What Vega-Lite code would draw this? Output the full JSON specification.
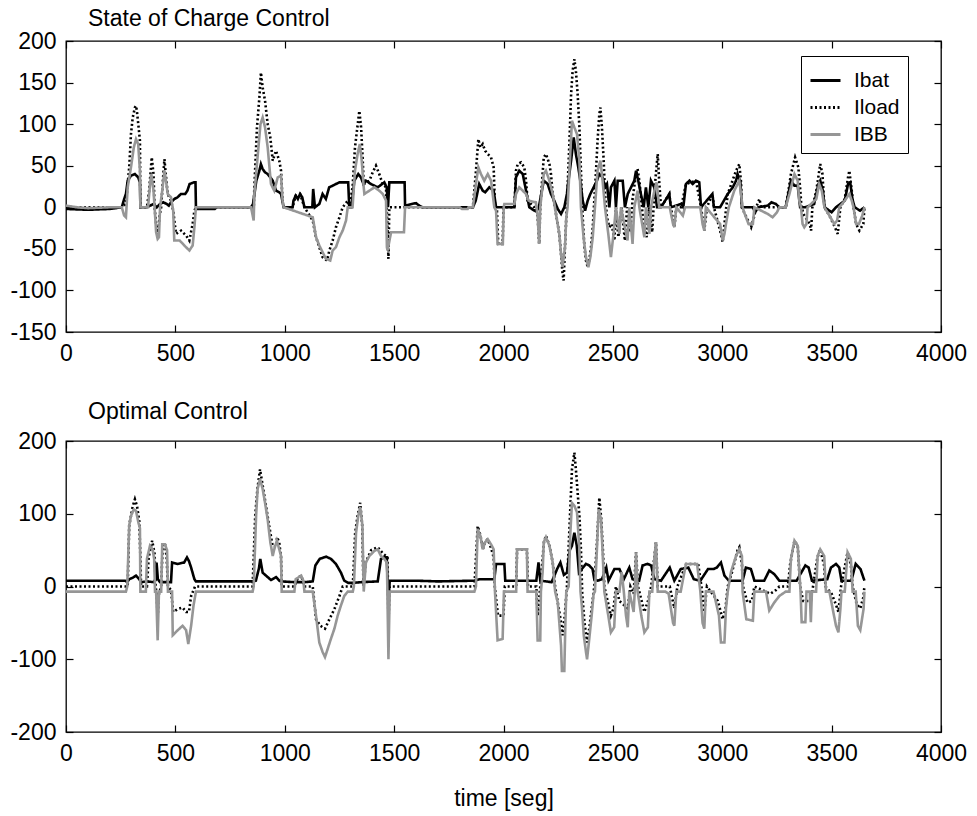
{
"$schema": "https://vega.github.io/schema/vega-lite/v6.json",
"padding": {"left": 9, "top": 7, "right": 5, "bottom": 5},
"config": {
 "font": "Liberation Sans",
 "view": {"stroke": "#000000", "strokeWidth": 1.3},
 "axis": {"labelFont": "Liberation Sans", "labelFontSize": 23, "labelColor": "#000000", "tickColor": "#000000", "tickSize": -7, "tickWidth": 1.2, "domain": false, "grid": false, "labelFlush": false, "labelPadding": 17, "labelExpr": "'' + datum.value", "titleFont": "Liberation Sans", "titleFontSize": 23, "titleFontWeight": "normal", "titleColor": "#000000"},
 "title": {"font": "Liberation Sans", "fontSize": 23, "fontWeight": "normal", "color": "#000000", "anchor": "start", "frame": "group", "dx": 22, "baseline": "alphabetic", "offset": -1}
},
"datasets": {
"soc": [
{"s":"Ibat","t":0,"v":-2},{"s":"Ibat","t":100,"v":-3},{"s":"Ibat","t":200,"v":-2},{"s":"Ibat","t":255,"v":0},{"s":"Ibat","t":266,"v":10},{"s":"Ibat","t":274,"v":16},{"s":"Ibat","t":282,"v":32},{"s":"Ibat","t":297,"v":38},{"s":"Ibat","t":315,"v":40},{"s":"Ibat","t":330,"v":36},{"s":"Ibat","t":338,"v":30},{"s":"Ibat","t":340,"v":0},{"s":"Ibat","t":370,"v":0},{"s":"Ibat","t":385,"v":2},{"s":"Ibat","t":400,"v":4},{"s":"Ibat","t":415,"v":0},{"s":"Ibat","t":430,"v":4},{"s":"Ibat","t":445,"v":6},{"s":"Ibat","t":460,"v":4},{"s":"Ibat","t":470,"v":2},{"s":"Ibat","t":480,"v":6},{"s":"Ibat","t":495,"v":10},{"s":"Ibat","t":510,"v":12},{"s":"Ibat","t":525,"v":16},{"s":"Ibat","t":545,"v":16},{"s":"Ibat","t":555,"v":20},{"s":"Ibat","t":565,"v":28},{"s":"Ibat","t":585,"v":30},{"s":"Ibat","t":592,"v":30},{"s":"Ibat","t":594,"v":0},{"s":"Ibat","t":600,"v":-2},{"s":"Ibat","t":680,"v":-2},{"s":"Ibat","t":690,"v":0},{"s":"Ibat","t":846,"v":0},{"s":"Ibat","t":855,"v":4},{"s":"Ibat","t":870,"v":32},{"s":"Ibat","t":884,"v":44},{"s":"Ibat","t":891,"v":52},{"s":"Ibat","t":899,"v":46},{"s":"Ibat","t":910,"v":42},{"s":"Ibat","t":922,"v":40},{"s":"Ibat","t":934,"v":36},{"s":"Ibat","t":945,"v":32},{"s":"Ibat","t":960,"v":20},{"s":"Ibat","t":975,"v":18},{"s":"Ibat","t":983,"v":16},{"s":"Ibat","t":995,"v":0},{"s":"Ibat","t":1036,"v":0},{"s":"Ibat","t":1040,"v":8},{"s":"Ibat","t":1050,"v":14},{"s":"Ibat","t":1060,"v":10},{"s":"Ibat","t":1070,"v":16},{"s":"Ibat","t":1080,"v":12},{"s":"Ibat","t":1090,"v":0},{"s":"Ibat","t":1126,"v":0},{"s":"Ibat","t":1130,"v":22},{"s":"Ibat","t":1138,"v":0},{"s":"Ibat","t":1158,"v":4},{"s":"Ibat","t":1173,"v":16},{"s":"Ibat","t":1188,"v":10},{"s":"Ibat","t":1203,"v":24},{"s":"Ibat","t":1219,"v":26},{"s":"Ibat","t":1234,"v":28},{"s":"Ibat","t":1250,"v":30},{"s":"Ibat","t":1290,"v":30},{"s":"Ibat","t":1295,"v":0},{"s":"Ibat","t":1305,"v":0},{"s":"Ibat","t":1318,"v":32},{"s":"Ibat","t":1336,"v":40},{"s":"Ibat","t":1348,"v":36},{"s":"Ibat","t":1360,"v":28},{"s":"Ibat","t":1371,"v":32},{"s":"Ibat","t":1394,"v":28},{"s":"Ibat","t":1425,"v":24},{"s":"Ibat","t":1455,"v":30},{"s":"Ibat","t":1466,"v":24},{"s":"Ibat","t":1472,"v":0},{"s":"Ibat","t":1478,"v":30},{"s":"Ibat","t":1548,"v":30},{"s":"Ibat","t":1550,"v":2},{"s":"Ibat","t":1580,"v":4},{"s":"Ibat","t":1600,"v":5},{"s":"Ibat","t":1615,"v":2},{"s":"Ibat","t":1630,"v":0},{"s":"Ibat","t":1860,"v":0},{"s":"Ibat","t":1873,"v":8},{"s":"Ibat","t":1889,"v":28},{"s":"Ibat","t":1905,"v":20},{"s":"Ibat","t":1916,"v":18},{"s":"Ibat","t":1935,"v":24},{"s":"Ibat","t":1955,"v":20},{"s":"Ibat","t":1966,"v":0},{"s":"Ibat","t":2050,"v":0},{"s":"Ibat","t":2057,"v":36},{"s":"Ibat","t":2072,"v":44},{"s":"Ibat","t":2088,"v":40},{"s":"Ibat","t":2103,"v":20},{"s":"Ibat","t":2118,"v":0},{"s":"Ibat","t":2141,"v":-4},{"s":"Ibat","t":2160,"v":-2},{"s":"Ibat","t":2184,"v":32},{"s":"Ibat","t":2202,"v":28},{"s":"Ibat","t":2217,"v":16},{"s":"Ibat","t":2232,"v":8},{"s":"Ibat","t":2248,"v":-2},{"s":"Ibat","t":2263,"v":-8},{"s":"Ibat","t":2278,"v":0},{"s":"Ibat","t":2290,"v":16},{"s":"Ibat","t":2293,"v":24},{"s":"Ibat","t":2309,"v":56},{"s":"Ibat","t":2321,"v":84},{"s":"Ibat","t":2331,"v":64},{"s":"Ibat","t":2342,"v":48},{"s":"Ibat","t":2351,"v":32},{"s":"Ibat","t":2362,"v":8},{"s":"Ibat","t":2373,"v":-4},{"s":"Ibat","t":2385,"v":8},{"s":"Ibat","t":2397,"v":16},{"s":"Ibat","t":2412,"v":24},{"s":"Ibat","t":2427,"v":32},{"s":"Ibat","t":2438,"v":40},{"s":"Ibat","t":2453,"v":36},{"s":"Ibat","t":2464,"v":24},{"s":"Ibat","t":2473,"v":28},{"s":"Ibat","t":2484,"v":0},{"s":"Ibat","t":2491,"v":24},{"s":"Ibat","t":2507,"v":32},{"s":"Ibat","t":2514,"v":0},{"s":"Ibat","t":2522,"v":32},{"s":"Ibat","t":2545,"v":32},{"s":"Ibat","t":2555,"v":0},{"s":"Ibat","t":2568,"v":16},{"s":"Ibat","t":2583,"v":24},{"s":"Ibat","t":2598,"v":32},{"s":"Ibat","t":2606,"v":44},{"s":"Ibat","t":2616,"v":32},{"s":"Ibat","t":2628,"v":16},{"s":"Ibat","t":2641,"v":0},{"s":"Ibat","t":2651,"v":24},{"s":"Ibat","t":2662,"v":0},{"s":"Ibat","t":2674,"v":32},{"s":"Ibat","t":2689,"v":24},{"s":"Ibat","t":2702,"v":0},{"s":"Ibat","t":2720,"v":0},{"s":"Ibat","t":2758,"v":16},{"s":"Ibat","t":2765,"v":0},{"s":"Ibat","t":2812,"v":4},{"s":"Ibat","t":2822,"v":0},{"s":"Ibat","t":2834,"v":28},{"s":"Ibat","t":2850,"v":32},{"s":"Ibat","t":2865,"v":28},{"s":"Ibat","t":2880,"v":32},{"s":"Ibat","t":2895,"v":30},{"s":"Ibat","t":2903,"v":0},{"s":"Ibat","t":2955,"v":16},{"s":"Ibat","t":2962,"v":0},{"s":"Ibat","t":2990,"v":0},{"s":"Ibat","t":3025,"v":16},{"s":"Ibat","t":3048,"v":24},{"s":"Ibat","t":3063,"v":32},{"s":"Ibat","t":3070,"v":40},{"s":"Ibat","t":3083,"v":30},{"s":"Ibat","t":3090,"v":0},{"s":"Ibat","t":3140,"v":0},{"s":"Ibat","t":3150,"v":-6},{"s":"Ibat","t":3165,"v":0},{"s":"Ibat","t":3208,"v":2},{"s":"Ibat","t":3225,"v":6},{"s":"Ibat","t":3245,"v":4},{"s":"Ibat","t":3261,"v":0},{"s":"Ibat","t":3290,"v":0},{"s":"Ibat","t":3299,"v":12},{"s":"Ibat","t":3314,"v":32},{"s":"Ibat","t":3330,"v":26},{"s":"Ibat","t":3345,"v":26},{"s":"Ibat","t":3356,"v":0},{"s":"Ibat","t":3380,"v":0},{"s":"Ibat","t":3420,"v":4},{"s":"Ibat","t":3440,"v":28},{"s":"Ibat","t":3448,"v":32},{"s":"Ibat","t":3460,"v":20},{"s":"Ibat","t":3468,"v":0},{"s":"Ibat","t":3500,"v":-6},{"s":"Ibat","t":3520,"v":0},{"s":"Ibat","t":3560,"v":8},{"s":"Ibat","t":3575,"v":28},{"s":"Ibat","t":3585,"v":30},{"s":"Ibat","t":3595,"v":10},{"s":"Ibat","t":3605,"v":0},{"s":"Ibat","t":3630,"v":-4},{"s":"Ibat","t":3650,"v":0},
{"s":"Iload","t":0,"v":0},{"s":"Iload","t":255,"v":0},{"s":"Iload","t":274,"v":4},{"s":"Iload","t":282,"v":28},{"s":"Iload","t":289,"v":48},{"s":"Iload","t":297,"v":88},{"s":"Iload","t":305,"v":108},{"s":"Iload","t":315,"v":120},{"s":"Iload","t":320,"v":122},{"s":"Iload","t":324,"v":116},{"s":"Iload","t":332,"v":96},{"s":"Iload","t":338,"v":80},{"s":"Iload","t":340,"v":0},{"s":"Iload","t":370,"v":0},{"s":"Iload","t":380,"v":20},{"s":"Iload","t":392,"v":60},{"s":"Iload","t":400,"v":40},{"s":"Iload","t":405,"v":0},{"s":"Iload","t":412,"v":-20},{"s":"Iload","t":419,"v":-36},{"s":"Iload","t":428,"v":-10},{"s":"Iload","t":435,"v":0},{"s":"Iload","t":445,"v":40},{"s":"Iload","t":450,"v":58},{"s":"Iload","t":456,"v":40},{"s":"Iload","t":465,"v":16},{"s":"Iload","t":480,"v":8},{"s":"Iload","t":490,"v":-4},{"s":"Iload","t":503,"v":-32},{"s":"Iload","t":526,"v":-28},{"s":"Iload","t":549,"v":-34},{"s":"Iload","t":564,"v":-40},{"s":"Iload","t":579,"v":-20},{"s":"Iload","t":587,"v":-4},{"s":"Iload","t":594,"v":0},{"s":"Iload","t":846,"v":0},{"s":"Iload","t":858,"v":-4},{"s":"Iload","t":861,"v":24},{"s":"Iload","t":873,"v":96},{"s":"Iload","t":884,"v":132},{"s":"Iload","t":891,"v":162},{"s":"Iload","t":899,"v":144},{"s":"Iload","t":910,"v":128},{"s":"Iload","t":922,"v":100},{"s":"Iload","t":934,"v":84},{"s":"Iload","t":945,"v":56},{"s":"Iload","t":960,"v":68},{"s":"Iload","t":975,"v":56},{"s":"Iload","t":983,"v":44},{"s":"Iload","t":990,"v":8},{"s":"Iload","t":995,"v":0},{"s":"Iload","t":1036,"v":0},{"s":"Iload","t":1050,"v":14},{"s":"Iload","t":1070,"v":16},{"s":"Iload","t":1090,"v":0},{"s":"Iload","t":1128,"v":-16},{"s":"Iload","t":1143,"v":-36},{"s":"Iload","t":1158,"v":-48},{"s":"Iload","t":1173,"v":-60},{"s":"Iload","t":1193,"v":-64},{"s":"Iload","t":1204,"v":-52},{"s":"Iload","t":1219,"v":-40},{"s":"Iload","t":1234,"v":-24},{"s":"Iload","t":1250,"v":-12},{"s":"Iload","t":1265,"v":0},{"s":"Iload","t":1288,"v":8},{"s":"Iload","t":1295,"v":0},{"s":"Iload","t":1310,"v":24},{"s":"Iload","t":1321,"v":72},{"s":"Iload","t":1330,"v":92},{"s":"Iload","t":1341,"v":116},{"s":"Iload","t":1349,"v":96},{"s":"Iload","t":1356,"v":60},{"s":"Iload","t":1361,"v":28},{"s":"Iload","t":1387,"v":32},{"s":"Iload","t":1402,"v":42},{"s":"Iload","t":1417,"v":50},{"s":"Iload","t":1432,"v":40},{"s":"Iload","t":1448,"v":28},{"s":"Iload","t":1463,"v":24},{"s":"Iload","t":1470,"v":-30},{"s":"Iload","t":1474,"v":-62},{"s":"Iload","t":1478,"v":0},{"s":"Iload","t":1860,"v":0},{"s":"Iload","t":1873,"v":40},{"s":"Iload","t":1885,"v":82},{"s":"Iload","t":1894,"v":72},{"s":"Iload","t":1905,"v":76},{"s":"Iload","t":1916,"v":68},{"s":"Iload","t":1928,"v":64},{"s":"Iload","t":1943,"v":60},{"s":"Iload","t":1955,"v":48},{"s":"Iload","t":1961,"v":0},{"s":"Iload","t":1970,"v":-4},{"s":"Iload","t":1976,"v":-44},{"s":"Iload","t":1996,"v":-44},{"s":"Iload","t":2000,"v":0},{"s":"Iload","t":2050,"v":0},{"s":"Iload","t":2057,"v":44},{"s":"Iload","t":2065,"v":52},{"s":"Iload","t":2080,"v":54},{"s":"Iload","t":2095,"v":48},{"s":"Iload","t":2103,"v":32},{"s":"Iload","t":2110,"v":8},{"s":"Iload","t":2140,"v":0},{"s":"Iload","t":2156,"v":-10},{"s":"Iload","t":2163,"v":-44},{"s":"Iload","t":2168,"v":0},{"s":"Iload","t":2184,"v":60},{"s":"Iload","t":2194,"v":64},{"s":"Iload","t":2210,"v":52},{"s":"Iload","t":2217,"v":40},{"s":"Iload","t":2225,"v":16},{"s":"Iload","t":2240,"v":-8},{"s":"Iload","t":2255,"v":-32},{"s":"Iload","t":2263,"v":-56},{"s":"Iload","t":2270,"v":-80},{"s":"Iload","t":2275,"v":-88},{"s":"Iload","t":2281,"v":-48},{"s":"Iload","t":2287,"v":-12},{"s":"Iload","t":2293,"v":24},{"s":"Iload","t":2301,"v":76},{"s":"Iload","t":2309,"v":136},{"s":"Iload","t":2316,"v":164},{"s":"Iload","t":2324,"v":178},{"s":"Iload","t":2331,"v":164},{"s":"Iload","t":2339,"v":136},{"s":"Iload","t":2347,"v":96},{"s":"Iload","t":2354,"v":44},{"s":"Iload","t":2362,"v":-12},{"s":"Iload","t":2370,"v":-48},{"s":"Iload","t":2377,"v":-64},{"s":"Iload","t":2385,"v":-72},{"s":"Iload","t":2392,"v":-64},{"s":"Iload","t":2400,"v":-48},{"s":"Iload","t":2408,"v":-24},{"s":"Iload","t":2415,"v":8},{"s":"Iload","t":2423,"v":44},{"s":"Iload","t":2430,"v":80},{"s":"Iload","t":2438,"v":112},{"s":"Iload","t":2443,"v":120},{"s":"Iload","t":2450,"v":96},{"s":"Iload","t":2458,"v":56},{"s":"Iload","t":2464,"v":16},{"s":"Iload","t":2473,"v":-12},{"s":"Iload","t":2484,"v":-24},{"s":"Iload","t":2495,"v":-20},{"s":"Iload","t":2507,"v":-40},{"s":"Iload","t":2514,"v":0},{"s":"Iload","t":2525,"v":-36},{"s":"Iload","t":2540,"v":0},{"s":"Iload","t":2555,"v":-40},{"s":"Iload","t":2565,"v":0},{"s":"Iload","t":2580,"v":-30},{"s":"Iload","t":2590,"v":10},{"s":"Iload","t":2606,"v":40},{"s":"Iload","t":2613,"v":46},{"s":"Iload","t":2622,"v":30},{"s":"Iload","t":2640,"v":-20},{"s":"Iload","t":2655,"v":-36},{"s":"Iload","t":2665,"v":0},{"s":"Iload","t":2680,"v":-30},{"s":"Iload","t":2690,"v":20},{"s":"Iload","t":2700,"v":50},{"s":"Iload","t":2705,"v":64},{"s":"Iload","t":2712,"v":30},{"s":"Iload","t":2720,"v":0},{"s":"Iload","t":2758,"v":16},{"s":"Iload","t":2765,"v":0},{"s":"Iload","t":2781,"v":-24},{"s":"Iload","t":2790,"v":0},{"s":"Iload","t":2812,"v":0},{"s":"Iload","t":2834,"v":28},{"s":"Iload","t":2880,"v":32},{"s":"Iload","t":2903,"v":0},{"s":"Iload","t":2918,"v":-28},{"s":"Iload","t":2930,"v":0},{"s":"Iload","t":2955,"v":16},{"s":"Iload","t":2962,"v":0},{"s":"Iload","t":2994,"v":-32},{"s":"Iload","t":3002,"v":-42},{"s":"Iload","t":3010,"v":-20},{"s":"Iload","t":3025,"v":16},{"s":"Iload","t":3063,"v":44},{"s":"Iload","t":3078,"v":52},{"s":"Iload","t":3086,"v":30},{"s":"Iload","t":3090,"v":0},{"s":"Iload","t":3100,"v":-6},{"s":"Iload","t":3125,"v":-20},{"s":"Iload","t":3132,"v":-24},{"s":"Iload","t":3147,"v":-10},{"s":"Iload","t":3155,"v":0},{"s":"Iload","t":3170,"v":10},{"s":"Iload","t":3178,"v":0},{"s":"Iload","t":3290,"v":0},{"s":"Iload","t":3305,"v":24},{"s":"Iload","t":3314,"v":40},{"s":"Iload","t":3333,"v":60},{"s":"Iload","t":3348,"v":48},{"s":"Iload","t":3357,"v":20},{"s":"Iload","t":3362,"v":0},{"s":"Iload","t":3375,"v":-10},{"s":"Iload","t":3400,"v":-20},{"s":"Iload","t":3406,"v":-28},{"s":"Iload","t":3412,"v":0},{"s":"Iload","t":3430,"v":20},{"s":"Iload","t":3448,"v":52},{"s":"Iload","t":3458,"v":40},{"s":"Iload","t":3467,"v":0},{"s":"Iload","t":3490,"v":-10},{"s":"Iload","t":3515,"v":-24},{"s":"Iload","t":3528,"v":-32},{"s":"Iload","t":3540,"v":0},{"s":"Iload","t":3560,"v":10},{"s":"Iload","t":3575,"v":36},{"s":"Iload","t":3581,"v":44},{"s":"Iload","t":3592,"v":20},{"s":"Iload","t":3600,"v":0},{"s":"Iload","t":3612,"v":-20},{"s":"Iload","t":3627,"v":-28},{"s":"Iload","t":3645,"v":-20},{"s":"Iload","t":3650,"v":0},
{"s":"IBB","t":0,"v":2},{"s":"IBB","t":50,"v":0},{"s":"IBB","t":100,"v":-1},{"s":"IBB","t":200,"v":0},{"s":"IBB","t":255,"v":0},{"s":"IBB","t":266,"v":-10},{"s":"IBB","t":274,"v":-12},{"s":"IBB","t":282,"v":24},{"s":"IBB","t":297,"v":48},{"s":"IBB","t":310,"v":72},{"s":"IBB","t":320,"v":82},{"s":"IBB","t":330,"v":76},{"s":"IBB","t":338,"v":44},{"s":"IBB","t":340,"v":0},{"s":"IBB","t":375,"v":0},{"s":"IBB","t":385,"v":30},{"s":"IBB","t":390,"v":40},{"s":"IBB","t":400,"v":20},{"s":"IBB","t":405,"v":0},{"s":"IBB","t":412,"v":-30},{"s":"IBB","t":419,"v":-38},{"s":"IBB","t":425,"v":-36},{"s":"IBB","t":430,"v":0},{"s":"IBB","t":440,"v":20},{"s":"IBB","t":450,"v":44},{"s":"IBB","t":458,"v":30},{"s":"IBB","t":465,"v":16},{"s":"IBB","t":480,"v":12},{"s":"IBB","t":490,"v":-4},{"s":"IBB","t":495,"v":-40},{"s":"IBB","t":520,"v":-40},{"s":"IBB","t":541,"v":-46},{"s":"IBB","t":564,"v":-52},{"s":"IBB","t":579,"v":-46},{"s":"IBB","t":587,"v":-24},{"s":"IBB","t":594,"v":0},{"s":"IBB","t":846,"v":0},{"s":"IBB","t":858,"v":-16},{"s":"IBB","t":861,"v":16},{"s":"IBB","t":877,"v":64},{"s":"IBB","t":889,"v":100},{"s":"IBB","t":899,"v":108},{"s":"IBB","t":910,"v":96},{"s":"IBB","t":922,"v":72},{"s":"IBB","t":937,"v":28},{"s":"IBB","t":952,"v":20},{"s":"IBB","t":968,"v":36},{"s":"IBB","t":983,"v":38},{"s":"IBB","t":990,"v":8},{"s":"IBB","t":995,"v":0},{"s":"IBB","t":1128,"v":-12},{"s":"IBB","t":1143,"v":-36},{"s":"IBB","t":1158,"v":-46},{"s":"IBB","t":1173,"v":-54},{"s":"IBB","t":1188,"v":-62},{"s":"IBB","t":1208,"v":-64},{"s":"IBB","t":1219,"v":-52},{"s":"IBB","t":1234,"v":-48},{"s":"IBB","t":1250,"v":-36},{"s":"IBB","t":1265,"v":-28},{"s":"IBB","t":1280,"v":-16},{"s":"IBB","t":1288,"v":0},{"s":"IBB","t":1310,"v":0},{"s":"IBB","t":1321,"v":44},{"s":"IBB","t":1333,"v":64},{"s":"IBB","t":1343,"v":76},{"s":"IBB","t":1352,"v":56},{"s":"IBB","t":1361,"v":24},{"s":"IBB","t":1364,"v":16},{"s":"IBB","t":1387,"v":20},{"s":"IBB","t":1410,"v":24},{"s":"IBB","t":1432,"v":20},{"s":"IBB","t":1448,"v":16},{"s":"IBB","t":1463,"v":8},{"s":"IBB","t":1467,"v":-48},{"s":"IBB","t":1470,"v":-52},{"s":"IBB","t":1486,"v":-30},{"s":"IBB","t":1545,"v":-30},{"s":"IBB","t":1550,"v":0},{"s":"IBB","t":1800,"v":0},{"s":"IBB","t":1810,"v":-2},{"s":"IBB","t":1836,"v":-2},{"s":"IBB","t":1840,"v":0},{"s":"IBB","t":1860,"v":0},{"s":"IBB","t":1874,"v":28},{"s":"IBB","t":1885,"v":48},{"s":"IBB","t":1897,"v":40},{"s":"IBB","t":1912,"v":32},{"s":"IBB","t":1928,"v":40},{"s":"IBB","t":1943,"v":32},{"s":"IBB","t":1958,"v":0},{"s":"IBB","t":1966,"v":-4},{"s":"IBB","t":1973,"v":-44},{"s":"IBB","t":1997,"v":-44},{"s":"IBB","t":2001,"v":0},{"s":"IBB","t":2004,"v":4},{"s":"IBB","t":2050,"v":4},{"s":"IBB","t":2057,"v":16},{"s":"IBB","t":2072,"v":24},{"s":"IBB","t":2088,"v":20},{"s":"IBB","t":2103,"v":16},{"s":"IBB","t":2115,"v":8},{"s":"IBB","t":2148,"v":6},{"s":"IBB","t":2156,"v":-10},{"s":"IBB","t":2163,"v":-44},{"s":"IBB","t":2168,"v":0},{"s":"IBB","t":2184,"v":40},{"s":"IBB","t":2194,"v":44},{"s":"IBB","t":2210,"v":32},{"s":"IBB","t":2225,"v":16},{"s":"IBB","t":2240,"v":-8},{"s":"IBB","t":2255,"v":-32},{"s":"IBB","t":2263,"v":-56},{"s":"IBB","t":2270,"v":-72},{"s":"IBB","t":2281,"v":-48},{"s":"IBB","t":2287,"v":-12},{"s":"IBB","t":2293,"v":0},{"s":"IBB","t":2305,"v":64},{"s":"IBB","t":2313,"v":104},{"s":"IBB","t":2324,"v":96},{"s":"IBB","t":2336,"v":88},{"s":"IBB","t":2347,"v":56},{"s":"IBB","t":2354,"v":0},{"s":"IBB","t":2366,"v":-36},{"s":"IBB","t":2377,"v":-60},{"s":"IBB","t":2388,"v":-72},{"s":"IBB","t":2397,"v":-60},{"s":"IBB","t":2408,"v":-36},{"s":"IBB","t":2418,"v":0},{"s":"IBB","t":2430,"v":44},{"s":"IBB","t":2443,"v":56},{"s":"IBB","t":2453,"v":32},{"s":"IBB","t":2464,"v":0},{"s":"IBB","t":2479,"v":-32},{"s":"IBB","t":2491,"v":-60},{"s":"IBB","t":2503,"v":-32},{"s":"IBB","t":2514,"v":0},{"s":"IBB","t":2530,"v":-32},{"s":"IBB","t":2537,"v":0},{"s":"IBB","t":2567,"v":-40},{"s":"IBB","t":2575,"v":0},{"s":"IBB","t":2590,"v":-44},{"s":"IBB","t":2598,"v":0},{"s":"IBB","t":2613,"v":20},{"s":"IBB","t":2621,"v":0},{"s":"IBB","t":2644,"v":-36},{"s":"IBB","t":2651,"v":0},{"s":"IBB","t":2667,"v":-32},{"s":"IBB","t":2674,"v":0},{"s":"IBB","t":2690,"v":20},{"s":"IBB","t":2700,"v":30},{"s":"IBB","t":2712,"v":0},{"s":"IBB","t":2760,"v":0},{"s":"IBB","t":2775,"v":-20},{"s":"IBB","t":2781,"v":-24},{"s":"IBB","t":2790,"v":0},{"s":"IBB","t":2820,"v":-10},{"s":"IBB","t":2830,"v":0},{"s":"IBB","t":2900,"v":0},{"s":"IBB","t":2910,"v":-20},{"s":"IBB","t":2918,"v":-28},{"s":"IBB","t":2925,"v":0},{"s":"IBB","t":2990,"v":-20},{"s":"IBB","t":3002,"v":-40},{"s":"IBB","t":3010,"v":-32},{"s":"IBB","t":3017,"v":-20},{"s":"IBB","t":3030,"v":0},{"s":"IBB","t":3055,"v":20},{"s":"IBB","t":3078,"v":32},{"s":"IBB","t":3086,"v":16},{"s":"IBB","t":3093,"v":0},{"s":"IBB","t":3100,"v":-6},{"s":"IBB","t":3120,"v":-20},{"s":"IBB","t":3140,"v":-20},{"s":"IBB","t":3147,"v":0},{"s":"IBB","t":3208,"v":-8},{"s":"IBB","t":3230,"v":-12},{"s":"IBB","t":3250,"v":-6},{"s":"IBB","t":3261,"v":0},{"s":"IBB","t":3290,"v":0},{"s":"IBB","t":3307,"v":16},{"s":"IBB","t":3330,"v":40},{"s":"IBB","t":3345,"v":32},{"s":"IBB","t":3352,"v":8},{"s":"IBB","t":3360,"v":0},{"s":"IBB","t":3367,"v":-20},{"s":"IBB","t":3375,"v":-24},{"s":"IBB","t":3385,"v":-20},{"s":"IBB","t":3390,"v":0},{"s":"IBB","t":3430,"v":10},{"s":"IBB","t":3443,"v":28},{"s":"IBB","t":3455,"v":20},{"s":"IBB","t":3467,"v":0},{"s":"IBB","t":3490,"v":-10},{"s":"IBB","t":3512,"v":-20},{"s":"IBB","t":3525,"v":-16},{"s":"IBB","t":3535,"v":0},{"s":"IBB","t":3560,"v":8},{"s":"IBB","t":3581,"v":16},{"s":"IBB","t":3592,"v":8},{"s":"IBB","t":3600,"v":0},{"s":"IBB","t":3612,"v":-20},{"s":"IBB","t":3625,"v":-20},{"s":"IBB","t":3640,"v":-10},{"s":"IBB","t":3650,"v":0}
],
"opt": [
{"s":"Ibat","t":0,"v":8},{"s":"Ibat","t":270,"v":8},{"s":"Ibat","t":280,"v":6},{"s":"Ibat","t":289,"v":10},{"s":"Ibat","t":305,"v":12},{"s":"Ibat","t":320,"v":15},{"s":"Ibat","t":335,"v":10},{"s":"Ibat","t":343,"v":6},{"s":"Ibat","t":370,"v":7},{"s":"Ibat","t":400,"v":6},{"s":"Ibat","t":410,"v":10},{"s":"Ibat","t":414,"v":33},{"s":"Ibat","t":420,"v":10},{"s":"Ibat","t":430,"v":6},{"s":"Ibat","t":480,"v":6},{"s":"Ibat","t":485,"v":33},{"s":"Ibat","t":511,"v":31},{"s":"Ibat","t":540,"v":33},{"s":"Ibat","t":553,"v":40},{"s":"Ibat","t":562,"v":35},{"s":"Ibat","t":572,"v":26},{"s":"Ibat","t":587,"v":10},{"s":"Ibat","t":594,"v":7},{"s":"Ibat","t":853,"v":7},{"s":"Ibat","t":868,"v":8},{"s":"Ibat","t":882,"v":25},{"s":"Ibat","t":888,"v":38},{"s":"Ibat","t":899,"v":19},{"s":"Ibat","t":914,"v":15},{"s":"Ibat","t":937,"v":9},{"s":"Ibat","t":960,"v":13},{"s":"Ibat","t":975,"v":8},{"s":"Ibat","t":983,"v":7},{"s":"Ibat","t":1044,"v":6},{"s":"Ibat","t":1090,"v":6},{"s":"Ibat","t":1128,"v":7},{"s":"Ibat","t":1140,"v":29},{"s":"Ibat","t":1160,"v":38},{"s":"Ibat","t":1189,"v":41},{"s":"Ibat","t":1211,"v":38},{"s":"Ibat","t":1234,"v":31},{"s":"Ibat","t":1257,"v":19},{"s":"Ibat","t":1272,"v":8},{"s":"Ibat","t":1290,"v":5},{"s":"Ibat","t":1311,"v":5},{"s":"Ibat","t":1350,"v":6},{"s":"Ibat","t":1425,"v":7},{"s":"Ibat","t":1440,"v":38},{"s":"Ibat","t":1452,"v":40},{"s":"Ibat","t":1466,"v":40},{"s":"Ibat","t":1474,"v":-20},{"s":"Ibat","t":1480,"v":8},{"s":"Ibat","t":1600,"v":8},{"s":"Ibat","t":1700,"v":7},{"s":"Ibat","t":1867,"v":8},{"s":"Ibat","t":1890,"v":10},{"s":"Ibat","t":1958,"v":10},{"s":"Ibat","t":1966,"v":31},{"s":"Ibat","t":2004,"v":31},{"s":"Ibat","t":2008,"v":8},{"s":"Ibat","t":2150,"v":8},{"s":"Ibat","t":2160,"v":33},{"s":"Ibat","t":2168,"v":8},{"s":"Ibat","t":2220,"v":6},{"s":"Ibat","t":2245,"v":24},{"s":"Ibat","t":2260,"v":33},{"s":"Ibat","t":2276,"v":16},{"s":"Ibat","t":2290,"v":19},{"s":"Ibat","t":2303,"v":50},{"s":"Ibat","t":2313,"v":56},{"s":"Ibat","t":2324,"v":74},{"s":"Ibat","t":2335,"v":56},{"s":"Ibat","t":2345,"v":19},{"s":"Ibat","t":2358,"v":24},{"s":"Ibat","t":2377,"v":31},{"s":"Ibat","t":2392,"v":29},{"s":"Ibat","t":2407,"v":24},{"s":"Ibat","t":2415,"v":10},{"s":"Ibat","t":2430,"v":8},{"s":"Ibat","t":2450,"v":10},{"s":"Ibat","t":2470,"v":26},{"s":"Ibat","t":2480,"v":8},{"s":"Ibat","t":2507,"v":24},{"s":"Ibat","t":2530,"v":24},{"s":"Ibat","t":2550,"v":10},{"s":"Ibat","t":2575,"v":26},{"s":"Ibat","t":2590,"v":10},{"s":"Ibat","t":2620,"v":8},{"s":"Ibat","t":2636,"v":29},{"s":"Ibat","t":2659,"v":31},{"s":"Ibat","t":2675,"v":29},{"s":"Ibat","t":2690,"v":10},{"s":"Ibat","t":2720,"v":8},{"s":"Ibat","t":2760,"v":26},{"s":"Ibat","t":2781,"v":8},{"s":"Ibat","t":2810,"v":24},{"s":"Ibat","t":2845,"v":26},{"s":"Ibat","t":2870,"v":10},{"s":"Ibat","t":2900,"v":8},{"s":"Ibat","t":2935,"v":24},{"s":"Ibat","t":2960,"v":24},{"s":"Ibat","t":2975,"v":26},{"s":"Ibat","t":2994,"v":33},{"s":"Ibat","t":3010,"v":15},{"s":"Ibat","t":3030,"v":8},{"s":"Ibat","t":3093,"v":8},{"s":"Ibat","t":3108,"v":26},{"s":"Ibat","t":3131,"v":24},{"s":"Ibat","t":3147,"v":8},{"s":"Ibat","t":3192,"v":8},{"s":"Ibat","t":3215,"v":22},{"s":"Ibat","t":3238,"v":17},{"s":"Ibat","t":3261,"v":8},{"s":"Ibat","t":3340,"v":8},{"s":"Ibat","t":3380,"v":29},{"s":"Ibat","t":3395,"v":26},{"s":"Ibat","t":3410,"v":8},{"s":"Ibat","t":3480,"v":10},{"s":"Ibat","t":3497,"v":26},{"s":"Ibat","t":3520,"v":31},{"s":"Ibat","t":3535,"v":26},{"s":"Ibat","t":3545,"v":8},{"s":"Ibat","t":3590,"v":8},{"s":"Ibat","t":3610,"v":31},{"s":"Ibat","t":3632,"v":24},{"s":"Ibat","t":3650,"v":8},
{"s":"Iload","t":0,"v":0},{"s":"Iload","t":282,"v":0},{"s":"Iload","t":289,"v":84},{"s":"Iload","t":305,"v":110},{"s":"Iload","t":315,"v":120},{"s":"Iload","t":325,"v":110},{"s":"Iload","t":335,"v":90},{"s":"Iload","t":340,"v":40},{"s":"Iload","t":343,"v":0},{"s":"Iload","t":370,"v":0},{"s":"Iload","t":378,"v":40},{"s":"Iload","t":394,"v":63},{"s":"Iload","t":405,"v":45},{"s":"Iload","t":410,"v":0},{"s":"Iload","t":414,"v":-10},{"s":"Iload","t":419,"v":-41},{"s":"Iload","t":425,"v":-10},{"s":"Iload","t":435,"v":0},{"s":"Iload","t":442,"v":55},{"s":"Iload","t":452,"v":60},{"s":"Iload","t":460,"v":40},{"s":"Iload","t":466,"v":0},{"s":"Iload","t":480,"v":-5},{"s":"Iload","t":490,"v":-35},{"s":"Iload","t":511,"v":-31},{"s":"Iload","t":533,"v":-29},{"s":"Iload","t":549,"v":-35},{"s":"Iload","t":562,"v":-35},{"s":"Iload","t":572,"v":-13},{"s":"Iload","t":590,"v":0},{"s":"Iload","t":853,"v":0},{"s":"Iload","t":865,"v":97},{"s":"Iload","t":875,"v":134},{"s":"Iload","t":887,"v":161},{"s":"Iload","t":899,"v":139},{"s":"Iload","t":914,"v":111},{"s":"Iload","t":929,"v":83},{"s":"Iload","t":945,"v":55},{"s":"Iload","t":960,"v":55},{"s":"Iload","t":965,"v":68},{"s":"Iload","t":975,"v":60},{"s":"Iload","t":983,"v":40},{"s":"Iload","t":986,"v":0},{"s":"Iload","t":1044,"v":0},{"s":"Iload","t":1060,"v":12},{"s":"Iload","t":1075,"v":15},{"s":"Iload","t":1090,"v":0},{"s":"Iload","t":1128,"v":0},{"s":"Iload","t":1143,"v":-45},{"s":"Iload","t":1163,"v":-54},{"s":"Iload","t":1184,"v":-58},{"s":"Iload","t":1204,"v":-45},{"s":"Iload","t":1227,"v":-31},{"s":"Iload","t":1250,"v":-13},{"s":"Iload","t":1265,"v":0},{"s":"Iload","t":1311,"v":0},{"s":"Iload","t":1322,"v":74},{"s":"Iload","t":1333,"v":97},{"s":"Iload","t":1345,"v":115},{"s":"Iload","t":1354,"v":84},{"s":"Iload","t":1360,"v":0},{"s":"Iload","t":1370,"v":33},{"s":"Iload","t":1395,"v":50},{"s":"Iload","t":1425,"v":54},{"s":"Iload","t":1450,"v":45},{"s":"Iload","t":1470,"v":40},{"s":"Iload","t":1474,"v":-49},{"s":"Iload","t":1480,"v":0},{"s":"Iload","t":1867,"v":0},{"s":"Iload","t":1882,"v":83},{"s":"Iload","t":1895,"v":70},{"s":"Iload","t":1905,"v":51},{"s":"Iload","t":1916,"v":61},{"s":"Iload","t":1928,"v":65},{"s":"Iload","t":1945,"v":51},{"s":"Iload","t":1955,"v":40},{"s":"Iload","t":1960,"v":0},{"s":"Iload","t":1975,"v":-40},{"s":"Iload","t":2000,"v":-40},{"s":"Iload","t":2006,"v":0},{"s":"Iload","t":2058,"v":0},{"s":"Iload","t":2062,"v":51},{"s":"Iload","t":2107,"v":51},{"s":"Iload","t":2112,"v":0},{"s":"Iload","t":2150,"v":0},{"s":"Iload","t":2156,"v":-40},{"s":"Iload","t":2168,"v":0},{"s":"Iload","t":2185,"v":61},{"s":"Iload","t":2194,"v":70},{"s":"Iload","t":2210,"v":56},{"s":"Iload","t":2225,"v":33},{"s":"Iload","t":2236,"v":0},{"s":"Iload","t":2248,"v":-22},{"s":"Iload","t":2263,"v":-49},{"s":"Iload","t":2270,"v":-67},{"s":"Iload","t":2280,"v":-40},{"s":"Iload","t":2290,"v":0},{"s":"Iload","t":2300,"v":70},{"s":"Iload","t":2313,"v":161},{"s":"Iload","t":2324,"v":184},{"s":"Iload","t":2331,"v":161},{"s":"Iload","t":2339,"v":129},{"s":"Iload","t":2347,"v":97},{"s":"Iload","t":2354,"v":51},{"s":"Iload","t":2360,"v":-10},{"s":"Iload","t":2370,"v":-49},{"s":"Iload","t":2382,"v":-77},{"s":"Iload","t":2392,"v":-58},{"s":"Iload","t":2403,"v":-30},{"s":"Iload","t":2415,"v":0},{"s":"Iload","t":2427,"v":60},{"s":"Iload","t":2438,"v":122},{"s":"Iload","t":2447,"v":92},{"s":"Iload","t":2455,"v":47},{"s":"Iload","t":2461,"v":0},{"s":"Iload","t":2491,"v":-40},{"s":"Iload","t":2503,"v":-30},{"s":"Iload","t":2514,"v":0},{"s":"Iload","t":2530,"v":-20},{"s":"Iload","t":2568,"v":-30},{"s":"Iload","t":2580,"v":0},{"s":"Iload","t":2595,"v":-10},{"s":"Iload","t":2606,"v":47},{"s":"Iload","t":2615,"v":0},{"s":"Iload","t":2644,"v":-35},{"s":"Iload","t":2660,"v":-20},{"s":"Iload","t":2675,"v":0},{"s":"Iload","t":2697,"v":61},{"s":"Iload","t":2705,"v":0},{"s":"Iload","t":2760,"v":0},{"s":"Iload","t":2781,"v":-30},{"s":"Iload","t":2795,"v":0},{"s":"Iload","t":2835,"v":31},{"s":"Iload","t":2890,"v":31},{"s":"Iload","t":2905,"v":0},{"s":"Iload","t":2918,"v":-35},{"s":"Iload","t":2930,"v":0},{"s":"Iload","t":2980,"v":-20},{"s":"Iload","t":3002,"v":-45},{"s":"Iload","t":3015,"v":-30},{"s":"Iload","t":3025,"v":0},{"s":"Iload","t":3045,"v":20},{"s":"Iload","t":3070,"v":50},{"s":"Iload","t":3078,"v":54},{"s":"Iload","t":3090,"v":30},{"s":"Iload","t":3095,"v":0},{"s":"Iload","t":3115,"v":-22},{"s":"Iload","t":3135,"v":-20},{"s":"Iload","t":3147,"v":0},{"s":"Iload","t":3220,"v":-10},{"s":"Iload","t":3245,"v":-5},{"s":"Iload","t":3261,"v":0},{"s":"Iload","t":3300,"v":0},{"s":"Iload","t":3310,"v":30},{"s":"Iload","t":3330,"v":63},{"s":"Iload","t":3345,"v":56},{"s":"Iload","t":3356,"v":0},{"s":"Iload","t":3370,"v":-20},{"s":"Iload","t":3405,"v":-20},{"s":"Iload","t":3415,"v":0},{"s":"Iload","t":3435,"v":40},{"s":"Iload","t":3448,"v":51},{"s":"Iload","t":3465,"v":30},{"s":"Iload","t":3472,"v":0},{"s":"Iload","t":3500,"v":-10},{"s":"Iload","t":3520,"v":-25},{"s":"Iload","t":3531,"v":-35},{"s":"Iload","t":3543,"v":0},{"s":"Iload","t":3573,"v":47},{"s":"Iload","t":3588,"v":30},{"s":"Iload","t":3596,"v":0},{"s":"Iload","t":3615,"v":-25},{"s":"Iload","t":3631,"v":-30},{"s":"Iload","t":3645,"v":-15},{"s":"Iload","t":3650,"v":0},
{"s":"IBB","t":0,"v":-7},{"s":"IBB","t":274,"v":-7},{"s":"IBB","t":280,"v":0},{"s":"IBB","t":289,"v":84},{"s":"IBB","t":297,"v":97},{"s":"IBB","t":310,"v":106},{"s":"IBB","t":320,"v":104},{"s":"IBB","t":331,"v":88},{"s":"IBB","t":338,"v":80},{"s":"IBB","t":340,"v":-7},{"s":"IBB","t":365,"v":-7},{"s":"IBB","t":370,"v":38},{"s":"IBB","t":384,"v":56},{"s":"IBB","t":396,"v":51},{"s":"IBB","t":403,"v":38},{"s":"IBB","t":407,"v":-7},{"s":"IBB","t":412,"v":-7},{"s":"IBB","t":419,"v":-74},{"s":"IBB","t":425,"v":-7},{"s":"IBB","t":435,"v":-7},{"s":"IBB","t":440,"v":58},{"s":"IBB","t":452,"v":58},{"s":"IBB","t":462,"v":50},{"s":"IBB","t":466,"v":-7},{"s":"IBB","t":485,"v":-7},{"s":"IBB","t":488,"v":-67},{"s":"IBB","t":511,"v":-60},{"s":"IBB","t":533,"v":-54},{"s":"IBB","t":549,"v":-60},{"s":"IBB","t":559,"v":-79},{"s":"IBB","t":572,"v":-54},{"s":"IBB","t":583,"v":-26},{"s":"IBB","t":594,"v":-7},{"s":"IBB","t":853,"v":-7},{"s":"IBB","t":858,"v":0},{"s":"IBB","t":869,"v":97},{"s":"IBB","t":876,"v":134},{"s":"IBB","t":887,"v":148},{"s":"IBB","t":899,"v":134},{"s":"IBB","t":910,"v":115},{"s":"IBB","t":922,"v":92},{"s":"IBB","t":934,"v":61},{"s":"IBB","t":945,"v":42},{"s":"IBB","t":952,"v":51},{"s":"IBB","t":964,"v":63},{"s":"IBB","t":975,"v":51},{"s":"IBB","t":983,"v":42},{"s":"IBB","t":986,"v":-7},{"s":"IBB","t":1044,"v":-7},{"s":"IBB","t":1050,"v":10},{"s":"IBB","t":1060,"v":12},{"s":"IBB","t":1075,"v":15},{"s":"IBB","t":1085,"v":8},{"s":"IBB","t":1090,"v":-7},{"s":"IBB","t":1128,"v":-7},{"s":"IBB","t":1143,"v":-40},{"s":"IBB","t":1158,"v":-77},{"s":"IBB","t":1173,"v":-90},{"s":"IBB","t":1184,"v":-97},{"s":"IBB","t":1196,"v":-86},{"s":"IBB","t":1211,"v":-72},{"s":"IBB","t":1227,"v":-58},{"s":"IBB","t":1242,"v":-40},{"s":"IBB","t":1257,"v":-26},{"s":"IBB","t":1272,"v":-13},{"s":"IBB","t":1288,"v":-7},{"s":"IBB","t":1311,"v":-7},{"s":"IBB","t":1316,"v":0},{"s":"IBB","t":1326,"v":74},{"s":"IBB","t":1336,"v":97},{"s":"IBB","t":1345,"v":109},{"s":"IBB","t":1355,"v":84},{"s":"IBB","t":1361,"v":-7},{"s":"IBB","t":1371,"v":33},{"s":"IBB","t":1387,"v":42},{"s":"IBB","t":1410,"v":49},{"s":"IBB","t":1425,"v":51},{"s":"IBB","t":1440,"v":42},{"s":"IBB","t":1455,"v":38},{"s":"IBB","t":1467,"v":33},{"s":"IBB","t":1474,"v":-100},{"s":"IBB","t":1480,"v":-7},{"s":"IBB","t":1867,"v":-7},{"s":"IBB","t":1874,"v":0},{"s":"IBB","t":1882,"v":79},{"s":"IBB","t":1894,"v":70},{"s":"IBB","t":1905,"v":51},{"s":"IBB","t":1916,"v":61},{"s":"IBB","t":1928,"v":65},{"s":"IBB","t":1943,"v":58},{"s":"IBB","t":1955,"v":51},{"s":"IBB","t":1961,"v":-7},{"s":"IBB","t":1973,"v":-74},{"s":"IBB","t":1996,"v":-72},{"s":"IBB","t":2002,"v":-7},{"s":"IBB","t":2058,"v":-7},{"s":"IBB","t":2062,"v":51},{"s":"IBB","t":2107,"v":51},{"s":"IBB","t":2110,"v":-7},{"s":"IBB","t":2150,"v":-7},{"s":"IBB","t":2156,"v":-74},{"s":"IBB","t":2168,"v":-74},{"s":"IBB","t":2171,"v":-7},{"s":"IBB","t":2179,"v":20},{"s":"IBB","t":2184,"v":61},{"s":"IBB","t":2194,"v":68},{"s":"IBB","t":2210,"v":56},{"s":"IBB","t":2225,"v":33},{"s":"IBB","t":2236,"v":-7},{"s":"IBB","t":2248,"v":-22},{"s":"IBB","t":2255,"v":-49},{"s":"IBB","t":2263,"v":-81},{"s":"IBB","t":2267,"v":-116},{"s":"IBB","t":2278,"v":-116},{"s":"IBB","t":2283,"v":-49},{"s":"IBB","t":2287,"v":-7},{"s":"IBB","t":2298,"v":0},{"s":"IBB","t":2305,"v":70},{"s":"IBB","t":2313,"v":115},{"s":"IBB","t":2324,"v":111},{"s":"IBB","t":2336,"v":102},{"s":"IBB","t":2347,"v":51},{"s":"IBB","t":2352,"v":-7},{"s":"IBB","t":2358,"v":-26},{"s":"IBB","t":2367,"v":-67},{"s":"IBB","t":2377,"v":-90},{"s":"IBB","t":2382,"v":-100},{"s":"IBB","t":2392,"v":-72},{"s":"IBB","t":2403,"v":-40},{"s":"IBB","t":2412,"v":-10},{"s":"IBB","t":2418,"v":-7},{"s":"IBB","t":2427,"v":51},{"s":"IBB","t":2435,"v":106},{"s":"IBB","t":2446,"v":92},{"s":"IBB","t":2453,"v":47},{"s":"IBB","t":2461,"v":-7},{"s":"IBB","t":2479,"v":-40},{"s":"IBB","t":2491,"v":-63},{"s":"IBB","t":2506,"v":-56},{"s":"IBB","t":2514,"v":-7},{"s":"IBB","t":2530,"v":-7},{"s":"IBB","t":2540,"v":20},{"s":"IBB","t":2550,"v":-7},{"s":"IBB","t":2560,"v":-40},{"s":"IBB","t":2568,"v":-56},{"s":"IBB","t":2575,"v":-7},{"s":"IBB","t":2595,"v":-35},{"s":"IBB","t":2600,"v":-7},{"s":"IBB","t":2606,"v":47},{"s":"IBB","t":2613,"v":-7},{"s":"IBB","t":2630,"v":-40},{"s":"IBB","t":2644,"v":-63},{"s":"IBB","t":2660,"v":-56},{"s":"IBB","t":2667,"v":-7},{"s":"IBB","t":2680,"v":-7},{"s":"IBB","t":2690,"v":40},{"s":"IBB","t":2697,"v":61},{"s":"IBB","t":2705,"v":-7},{"s":"IBB","t":2740,"v":-7},{"s":"IBB","t":2755,"v":-10},{"s":"IBB","t":2775,"v":-50},{"s":"IBB","t":2781,"v":-54},{"s":"IBB","t":2790,"v":-7},{"s":"IBB","t":2810,"v":-7},{"s":"IBB","t":2834,"v":31},{"s":"IBB","t":2885,"v":31},{"s":"IBB","t":2900,"v":-7},{"s":"IBB","t":2910,"v":-50},{"s":"IBB","t":2918,"v":-58},{"s":"IBB","t":2925,"v":-7},{"s":"IBB","t":2960,"v":-7},{"s":"IBB","t":2985,"v":-40},{"s":"IBB","t":2994,"v":-77},{"s":"IBB","t":3010,"v":-77},{"s":"IBB","t":3017,"v":-30},{"s":"IBB","t":3025,"v":-7},{"s":"IBB","t":3040,"v":20},{"s":"IBB","t":3063,"v":42},{"s":"IBB","t":3078,"v":51},{"s":"IBB","t":3090,"v":42},{"s":"IBB","t":3093,"v":-7},{"s":"IBB","t":3110,"v":-45},{"s":"IBB","t":3140,"v":-47},{"s":"IBB","t":3147,"v":-7},{"s":"IBB","t":3200,"v":-7},{"s":"IBB","t":3215,"v":-33},{"s":"IBB","t":3238,"v":-22},{"s":"IBB","t":3261,"v":-13},{"s":"IBB","t":3290,"v":-7},{"s":"IBB","t":3307,"v":-7},{"s":"IBB","t":3314,"v":38},{"s":"IBB","t":3330,"v":63},{"s":"IBB","t":3345,"v":56},{"s":"IBB","t":3358,"v":-7},{"s":"IBB","t":3363,"v":-49},{"s":"IBB","t":3380,"v":-49},{"s":"IBB","t":3385,"v":-7},{"s":"IBB","t":3400,"v":-7},{"s":"IBB","t":3405,"v":-49},{"s":"IBB","t":3410,"v":-7},{"s":"IBB","t":3429,"v":-7},{"s":"IBB","t":3436,"v":42},{"s":"IBB","t":3448,"v":51},{"s":"IBB","t":3466,"v":42},{"s":"IBB","t":3474,"v":-7},{"s":"IBB","t":3490,"v":-7},{"s":"IBB","t":3505,"v":-31},{"s":"IBB","t":3520,"v":-54},{"s":"IBB","t":3531,"v":-63},{"s":"IBB","t":3540,"v":-31},{"s":"IBB","t":3545,"v":-7},{"s":"IBB","t":3560,"v":-7},{"s":"IBB","t":3573,"v":47},{"s":"IBB","t":3588,"v":38},{"s":"IBB","t":3596,"v":-7},{"s":"IBB","t":3610,"v":-7},{"s":"IBB","t":3620,"v":-54},{"s":"IBB","t":3631,"v":-60},{"s":"IBB","t":3646,"v":-31},{"s":"IBB","t":3650,"v":-7}
]
},
"spacing": 34,
"resolve": {"scale": {"color": "independent", "strokeDash": "independent"}},
"vconcat": [
{
 "title": {"text": "State of Charge Control"},
 "width": 875, "height": 291,
 "data": {"name": "soc"},
 "layer": [
  {"transform": [{"filter": "datum.s === 'Ibat'"}],
   "mark": {"type": "line", "strokeWidth": 2.6},
   "encoding": {
    "x": {"field": "t", "type": "quantitative", "scale": {"domain": [0, 4000], "nice": false}, "axis": {"values": [0,500,1000,1500,2000,2500,3000,3500,4000], "title": null}},
    "y": {"field": "v", "type": "quantitative", "scale": {"domain": [-150, 200], "nice": false}, "axis": {"values": [-150,-100,-50,0,50,100,150,200], "title": null}},
    "color": {"field": "s", "type": "nominal", "scale": {"domain": ["Ibat","Iload","IBB"], "range": ["#000000","#000000","#969696"]},
      "legend": {"title": null, "orient": "none", "legendX": 735, "legendY": 15, "strokeColor": "#000000", "fillColor": "#ffffff", "padding": 8, "symbolType": "stroke", "symbolSize": 900, "symbolStrokeWidth": 3, "labelFontSize": 21, "labelFont": "Liberation Sans", "labelColor": "#000000", "rowPadding": 0, "labelOffset": 12}},
    "strokeDash": {"field": "s", "type": "nominal", "scale": {"domain": ["Ibat","Iload","IBB"], "range": [[1,0],[2,2.5],[1,0]]}, "legend": {"title": null}}
   }},
  {"transform": [{"filter": "datum.s === 'Iload'"}],
   "mark": {"type": "line", "strokeWidth": 2.6},
   "encoding": {
    "x": {"field": "t", "type": "quantitative", "axis": null},
    "y": {"field": "v", "type": "quantitative", "axis": null},
    "color": {"field": "s", "type": "nominal"},
    "strokeDash": {"field": "s", "type": "nominal"}
   }},
  {"transform": [{"filter": "datum.s === 'IBB'"}],
   "mark": {"type": "line", "strokeWidth": 2.6},
   "encoding": {
    "x": {"field": "t", "type": "quantitative", "axis": null},
    "y": {"field": "v", "type": "quantitative", "axis": null},
    "color": {"field": "s", "type": "nominal"},
    "strokeDash": {"field": "s", "type": "nominal"}
   }},
  {"mark": {"type": "line", "strokeOpacity": 0},
   "encoding": {
    "x": {"field": "t", "type": "quantitative", "axis": {"orient": "top", "labels": false, "values": [0,500,1000,1500,2000,2500,3000,3500,4000], "title": null}},
    "y": {"field": "v", "type": "quantitative", "axis": {"orient": "right", "labels": false, "values": [-150,-100,-50,0,50,100,150,200], "title": null}},
    "detail": {"field": "s"}
   }}
 ],
 "resolve": {"axis": {"x": "independent", "y": "independent"}}
},
{
 "title": {"text": "Optimal Control", "offset": 6},
 "width": 875, "height": 291,
 "data": {"name": "opt"},
 "layer": [
  {"transform": [{"filter": "datum.s === 'Ibat'"}],
   "mark": {"type": "line", "strokeWidth": 2.6},
   "encoding": {
    "x": {"field": "t", "type": "quantitative", "scale": {"domain": [0, 4000], "nice": false}, "axis": {"values": [0,500,1000,1500,2000,2500,3000,3500,4000], "title": "time [seg]", "titlePadding": 22}},
    "y": {"field": "v", "type": "quantitative", "scale": {"domain": [-200, 200], "nice": false}, "axis": {"values": [-200,-100,0,100,200], "title": null}},
    "color": {"field": "s", "type": "nominal", "scale": {"domain": ["Ibat","Iload","IBB"], "range": ["#000000","#000000","#969696"]}, "legend": null},
    "strokeDash": {"field": "s", "type": "nominal", "scale": {"domain": ["Ibat","Iload","IBB"], "range": [[1,0],[2,2.5],[1,0]]}, "legend": null}
   }},
  {"transform": [{"filter": "datum.s === 'Iload'"}],
   "mark": {"type": "line", "strokeWidth": 2.6},
   "encoding": {
    "x": {"field": "t", "type": "quantitative", "axis": null},
    "y": {"field": "v", "type": "quantitative", "axis": null},
    "color": {"field": "s", "type": "nominal", "legend": null},
    "strokeDash": {"field": "s", "type": "nominal", "legend": null}
   }},
  {"transform": [{"filter": "datum.s === 'IBB'"}],
   "mark": {"type": "line", "strokeWidth": 2.6},
   "encoding": {
    "x": {"field": "t", "type": "quantitative", "axis": null},
    "y": {"field": "v", "type": "quantitative", "axis": null},
    "color": {"field": "s", "type": "nominal", "legend": null},
    "strokeDash": {"field": "s", "type": "nominal", "legend": null}
   }},
  {"mark": {"type": "line", "strokeOpacity": 0},
   "encoding": {
    "x": {"field": "t", "type": "quantitative", "axis": {"orient": "top", "labels": false, "values": [0,500,1000,1500,2000,2500,3000,3500,4000], "title": null}},
    "y": {"field": "v", "type": "quantitative", "axis": {"orient": "right", "labels": false, "values": [-200,-100,0,100,200], "title": null}},
    "detail": {"field": "s"}
   }}
 ],
 "resolve": {"axis": {"x": "independent", "y": "independent"}}
}
]
}
